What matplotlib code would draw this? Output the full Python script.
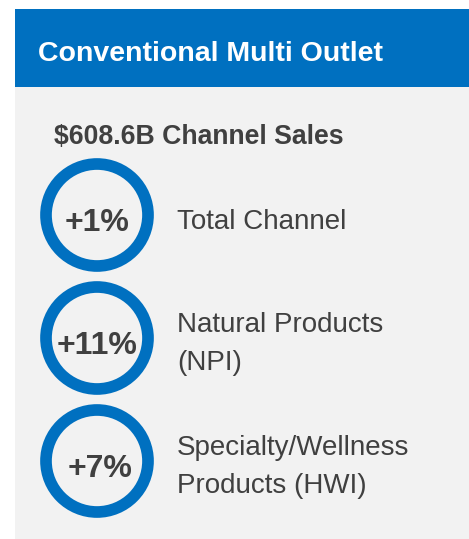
'''Kanaal-overzicht: Conventional Multi Outlet'''
import matplotlib
matplotlib.use('Agg')
import matplotlib.pyplot as plt
from matplotlib.patches import Rectangle, Circle

titel = 'Conventional Multi Outlet'
omzet = '$608.6B Channel Sales'
groei = ['+1%', '+11%', '+7%']
labels = ['Total Channel', 'Natural Products\n(NPI)', 'Specialty/Wellness\nProducts (HWI)']

BLAUW = '#0070C0'
GRIJS = '#F2F2F2'
TEKST = '#404040'
FONT = ['Liberation Sans', 'DejaVu Sans']

fig = plt.figure(figsize=(4.69, 5.39), dpi=100)
ax = fig.add_axes([0, 0, 1, 1])
ax.set_xlim(0, 469)
ax.set_ylim(539, 0)
ax.axis('off')

# kop en paneel
ax.add_patch(Rectangle((15, 9), 454, 78, color=BLAUW, lw=0))
ax.add_patch(Rectangle((15, 87), 454, 452, color=GRIJS, lw=0))
ax.text(38, 61, titel, color='white', fontsize=20.5, fontweight='bold',
        family=FONT, va='baseline', ha='left')
ax.text(54, 144, omzet, color=TEKST, fontsize=19.2, fontweight='bold',
        family=FONT, va='baseline', ha='left')

# ringen met groeicijfers
for i, (g, label) in enumerate(zip(groei, labels)):
    cy = 215 + i * 123
    ax.add_patch(Circle((97, cy), 51, fill=False, ec=BLAUW, lw=8.4))
    ax.text(97 + (3 if i == 2 else 0), cy + 16, g, color=TEKST, fontsize=23,
            fontweight='bold', family=FONT, ha='center', va='baseline')
    regels = label.split('\n')
    if len(regels) == 1:
        y0 = cy + 14
    else:
        y0 = cy - 6
    for j, r in enumerate(regels):
        ax.text(177, y0 + j * 38, r, color=TEKST, fontsize=20,
                family=FONT, va='baseline', ha='left')

fig.savefig('out.png', dpi=100)
